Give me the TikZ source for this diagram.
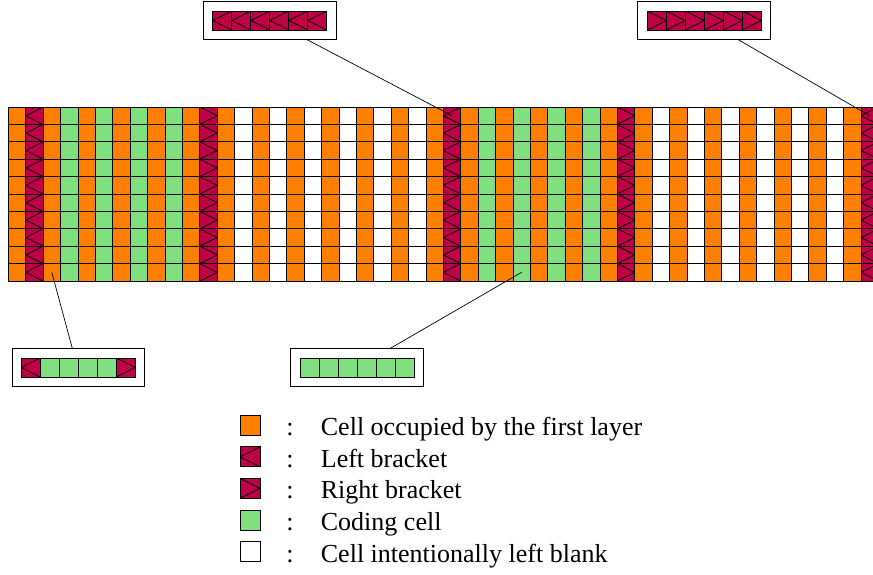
\documentclass[tikz,border=0pt]{standalone}
\usepackage{fontspec}
\setmainfont{Liberation Serif}
\usetikzlibrary{calc}

\definecolor{layerorange}{RGB}{255,128,0}
\definecolor{bracketred}{RGB}{192,0,70}
\definecolor{codinggreen}{RGB}{128,224,128}

\tikzset{
	cell/.style={draw, line width=0.8pt, minimum width=17.4pt, minimum height=17.4pt, inner sep=0pt, outer sep=0pt},
	occupied/.style={cell, fill=layerorange},
	coding/.style={cell, fill=codinggreen},
	blank/.style={cell, fill=white},
	leftbr/.style={cell, fill=bracketred, path picture={\draw[line width=0.8pt] (path picture bounding box.north east) -- (path picture bounding box.west) -- (path picture bounding box.south east);}},
	rightbr/.style={cell, fill=bracketred, path picture={\draw[line width=0.8pt] (path picture bounding box.north west) -- (path picture bounding box.east) -- (path picture bounding box.south west);}},
	zoomed/.style={minimum width=19pt, minimum height=19pt},
	keycell/.style={minimum width=20pt, minimum height=20pt},
	callout/.style={draw, line width=1pt, minimum width=132.6pt, minimum height=37.4pt, inner sep=0pt},
	lbl/.style={inner sep=0pt, font=\fontsize{26}{31}\selectfont},
}

\begin{document}
\begin{tikzpicture}[x=1pt, y=-1pt]
	\useasboundingbox (0,0) rectangle (873,574);
	\clip (0,0) rectangle (873,574);

	% the tape, 10 rows
	\foreach \c in {0,2,...,48}
		\foreach \r in {0,...,9}
			\node[occupied] (c-\c-\r) at ({8.3+17.4*(\c+0.5)},{107+17.4*(\r+0.5)}) {};
	\foreach \c in {1,25,49}
		\foreach \r in {0,...,9}
			\node[leftbr] (c-\c-\r) at ({8.3+17.4*(\c+0.5)},{107+17.4*(\r+0.5)}) {};
	\foreach \c in {11,35}
		\foreach \r in {0,...,9}
			\node[rightbr] (c-\c-\r) at ({8.3+17.4*(\c+0.5)},{107+17.4*(\r+0.5)}) {};
	\foreach \c in {3,5,7,9,27,29,31,33}
		\foreach \r in {0,...,9}
			\node[coding] (c-\c-\r) at ({8.3+17.4*(\c+0.5)},{107+17.4*(\r+0.5)}) {};
	\foreach \c in {13,15,...,23,37,39,...,47}
		\foreach \r in {0,...,9}
			\node[blank] (c-\c-\r) at ({8.3+17.4*(\c+0.5)},{107+17.4*(\r+0.5)}) {};

	% zoomed callouts
	\node[callout] (TL) at (269.7,20.5) {};
	\node[callout] (TR) at (704.2,20.5) {};
	\node[callout] (BL) at (78.3,367.5) {};
	\node[callout] (BM) at (357,367.5) {};

	\foreach \k in {0,...,5}{
		\node[leftbr, zoomed] (TL-\k) at ($(TL)+({19*\k-47.5},0)$) {};
		\node[rightbr, zoomed] (TR-\k) at ($(TR)+({19*\k-47.5},0)$) {};
		\node[coding, zoomed] (BM-\k) at ($(BM)+({19*\k-47.5},0)$) {};
	}
	\node[leftbr, zoomed] (BL-0) at ($(BL)+(-47.5,0)$) {};
	\foreach \k in {1,...,4}
		\node[coding, zoomed] (BL-\k) at ($(BL)+({19*\k-47.5},0)$) {};
	\node[rightbr, zoomed] (BL-5) at ($(BL)+(47.5,0)$) {};

	\draw[line width=0.7pt] ($(TL.south west)!0.78!(TL.south east)$) -- (c-25-0.center);
	\draw[line width=0.7pt] ($(TR.south west)!0.755!(TR.south east)$) -- (c-49-0.center);
	\draw[line width=0.7pt] ($(BL.north west)!0.455!(BL.north east)$) -- (c-2-9.center);
	\draw[line width=0.7pt] ($(BM.north west)!0.75!(BM.north east)$) -- (c-29-9.center);

	% legend
	\node[occupied, keycell] (K1) at (250,425) {};
	\node[leftbr, keycell] (K2) at (250,456.7) {};
	\node[rightbr, keycell] (K3) at (250,488.3) {};
	\node[coding, keycell] (K4) at (250,520) {};
	\node[blank, keycell] (K5) at (250,551.7) {};

	\node[lbl, anchor=base] (S1) at (290,435.5) {:};
	\node[lbl, anchor=base] (S2) at (290,467.2) {:};
	\node[lbl, anchor=base] (S3) at (290,498.8) {:};
	\node[lbl, anchor=base] (S4) at (290,530.5) {:};
	\node[lbl, anchor=base] (S5) at (290,562.2) {:};

	\node[lbl, anchor=base west] (L1) at (320.7,435.5) {Cell occupied by the first layer};
	\node[lbl, anchor=base west] (L2) at (320.7,467.2) {Left bracket};
	\node[lbl, anchor=base west] (L3) at (320.7,498.8) {Right bracket};
	\node[lbl, anchor=base west] (L4) at (320.7,530.5) {Coding cell};
	\node[lbl, anchor=base west] (L5) at (320.7,562.2) {Cell intentionally left blank};
\end{tikzpicture}
\end{document}
